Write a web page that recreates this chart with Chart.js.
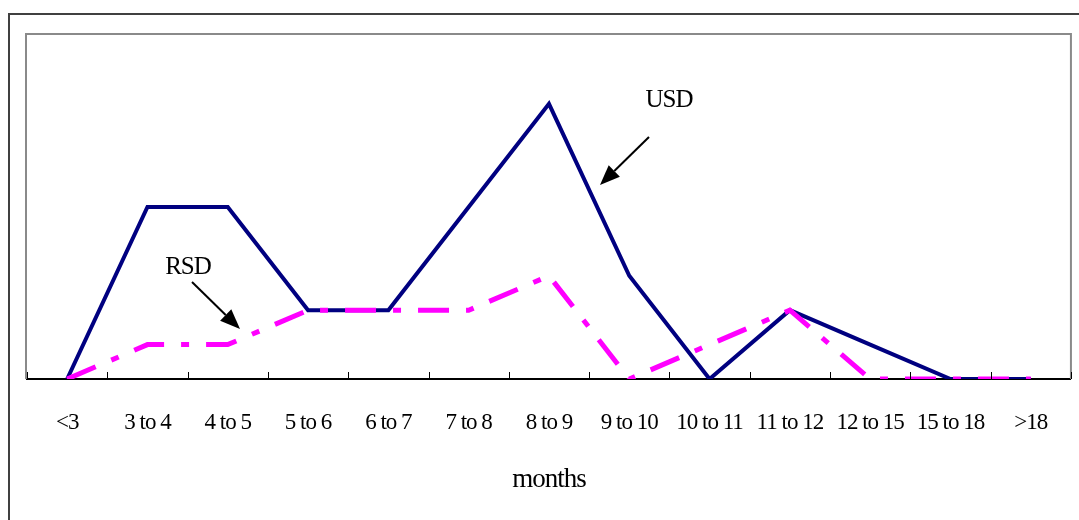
<!DOCTYPE html>
<html>
<head>
<meta charset="utf-8">
<script src="https://cdn.jsdelivr.net/npm/chart.js@4.4.1/dist/chart.umd.min.js"></script>
<style>
  html, body { margin: 0; padding: 0; background: #fff; }
  #wrap { width: 1079px; height: 520px; position: relative; }
</style>
</head>
<body>
<div id="wrap"><canvas id="chart" width="1079" height="520"></canvas></div>
<script>
// categories and series
var months = ['<3', '3 to 4', '4 to 5', '5 to 6', '6 to 7', '7 to 8', '8 to 9',
  '9 to 10', '10 to 11', '11 to 12', '12 to 15', '15 to 18', '>18'];
var usd = [0, 5, 5, 2, 2, 5, 8, 3, 0, 2, 1, 0, 0];
var rsd = [0, 1, 1, 2, 2, 2, 3, 0, 1, 2, 0, 0, 0];
var yMin = 0, yMax = 10;

var serif = '"Liberation Serif", "Times New Roman", serif';

// frame, plot border, inner tick marks and the two arrow notes
var decor = {
  id: 'decor',
  beforeDraw: function(chart) {
    var c = chart.ctx;
    c.letterSpacing = '-1px';
    c.save();
    c.strokeStyle = '#404040';
    c.lineWidth = 2;
    c.beginPath();
    c.moveTo(9, 520);
    c.lineTo(9, 14);
    c.lineTo(1079, 14);
    c.stroke();
    c.restore();
  },
  beforeDatasetsDraw: function(chart) {
    var a = chart.chartArea, c = chart.ctx;
    c.save();
    c.strokeStyle = '#8a8a8a';
    c.lineWidth = 2;
    c.beginPath();
    c.moveTo(a.left - 1, a.bottom);
    c.lineTo(a.left - 1, a.top - 1);
    c.lineTo(a.right, a.top - 1);
    c.lineTo(a.right, a.bottom);
    c.stroke();
    c.restore();
  },
  afterDraw: function(chart) {
    var a = chart.chartArea, c = chart.ctx, x = chart.scales.x;
    var step = x.getPixelForValue(1) - x.getPixelForValue(0);
    c.save();
    c.strokeStyle = '#000';
    c.lineWidth = 1;
    c.beginPath();
    for (var i = 0; i <= months.length; i++) {
      var px = Math.round(x.getPixelForValue(i) - step / 2) + 0.5;
      c.moveTo(px, a.bottom);
      c.lineTo(px, a.bottom - 7);
    }
    c.stroke();

    function arrow(x1, y1, x2, y2) {
      var ang = Math.atan2(y2 - y1, x2 - x1), len = 20, w = 8;
      var bx = x2 - len * Math.cos(ang), by = y2 - len * Math.sin(ang);
      c.beginPath();
      c.moveTo(x1, y1);
      c.lineTo(bx, by);
      c.lineWidth = 2;
      c.strokeStyle = '#000';
      c.stroke();
      c.beginPath();
      c.moveTo(x2, y2);
      c.lineTo(bx + w * Math.sin(ang), by - w * Math.cos(ang));
      c.lineTo(bx - w * Math.sin(ang), by + w * Math.cos(ang));
      c.closePath();
      c.fillStyle = '#000';
      c.fill();
    }
    c.font = '25px ' + serif;
    c.fillStyle = '#000';
    c.textAlign = 'center';
    c.textBaseline = 'middle';
    c.fillText('USD', 669, 100);
    c.fillText('RSD', 188, 267);
    arrow(649, 137, 600, 185);
    arrow(192, 282, 240, 329);
    c.restore();
  }
};

new Chart(document.getElementById('chart'), {
  type: 'line',
  data: {
    labels: months,
    datasets: [{
      label: 'USD',
      data: usd,
      borderColor: '#000080',
      borderWidth: 4,
      pointRadius: 0,
      tension: 0,
      order: 1
    }, {
      label: 'RSD',
      data: rsd,
      borderColor: '#ff00ff',
      borderWidth: 5,
      borderDash: [31, 17, 8, 17],
      pointRadius: 0,
      tension: 0,
      order: 0
    }]
  },
  options: {
    responsive: false,
    animation: false,
    layout: { padding: { left: 27, right: 6, top: 35, bottom: 24 } },
    plugins: { legend: { display: false }, tooltip: { enabled: false } },
    scales: {
      x: {
        offset: true,
        grid: { display: false, drawTicks: false },
        border: { display: true, color: '#000', width: 2 },
        ticks: { color: '#000', padding: 30, maxRotation: 0, autoSkip: false,
          font: { family: serif, size: 23 } },
        title: { display: true, text: 'months', color: '#000',
          padding: { top: -3, bottom: 0 }, font: { family: serif, size: 27 } }
      },
      y: {
        display: false,
        min: yMin,
        max: yMax
      }
    }
  },
  plugins: [decor]
});
</script>
</body>
</html>
